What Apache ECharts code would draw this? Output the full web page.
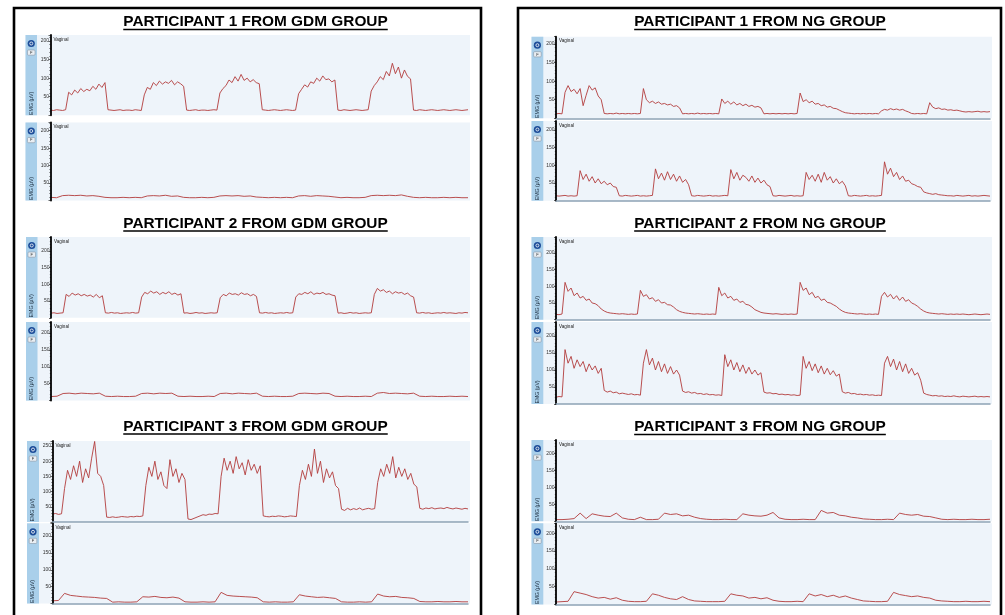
<!DOCTYPE html>
<html><head><meta charset="utf-8">
<script src="https://cdn.jsdelivr.net/npm/echarts@6/dist/echarts.min.js"></script>
<style>html,body{margin:0;padding:0;background:#fff}#c{width:1005px;height:615px}</style>
</head><body><div id="c"></div>
<script>
// ---------- texts ----------
const titlesLeft = ['PARTICIPANT 1 FROM GDM GROUP', 'PARTICIPANT 2 FROM GDM GROUP', 'PARTICIPANT 3 FROM GDM GROUP'];
const titlesRight = ['PARTICIPANT 1 FROM NG GROUP', 'PARTICIPANT 2 FROM NG GROUP', 'PARTICIPANT 3 FROM NG GROUP'];
const channelLabel = 'Vaginal';
const axisName = 'EMG (µV)';
const tickStep = 50;

// ---------- data (µV) ----------
const gdm1Top = [14,13,15,14,13,15,
62,55,68,60,72,64,70,66,78,70,84,75,88,
15,14,13,14,15,13,14,14,13,15,14,13,
55,75,70,88,80,92,84,90,86,94,82,90,85,78,
14,13,14,15,13,14,14,13,14,15,14,
60,72,80,95,88,104,92,110,94,100,90,96,88,85,
15,14,13,14,15,14,13,14,15,14,13,14,
58,70,82,76,90,86,100,92,106,96,98,90,95,
14,13,15,14,13,14,15,14,13,14,15,
65,80,90,104,96,118,106,140,112,130,100,122,105,98,
14,13,15,14,13,14,15,14,13,14,15,14,13,14,15,14,13,14,15];

const gdm1Bottom = [9,8,14,15,14,15,13,14,12,9, 8,8,9,8,9,8,13,14,13,15, 12,13,9,8,8,9,8,9,13,14,
13,14,12,13,10,9,8,9,8,9, 8,13,14,12,14,13,12,10,8,9, 8,8,9,14,15,14,15,14,16,12, 9,8,9,8,8,9,8,9,8,8];

const gdm2Top = [14,15,13,14,15,
70,64,74,68,72,66,70,65,68,62,70,60,66,
15,14,16,14,15,13,14,15,14,16,14,15,
62,76,72,80,74,78,70,76,72,78,70,74,68,72,
14,15,13,14,16,14,15,13,14,15,14,15,
60,70,66,74,70,72,68,75,70,72,66,70,64,
15,14,16,14,15,13,14,15,14,16,14,15,
62,72,70,76,72,78,70,74,72,76,70,72,68,66,
14,15,13,14,16,14,15,13,14,15,14,15,
70,88,80,84,76,80,72,78,74,76,70,74,66,62,
15,14,16,14,15,13,14,15,14,16,14,15,14,13,15,14,16,15];

const gdm2Bottom = [12,13,21,22,20,22,21,20,22,13, 12,13,12,12,13,21,22,20,22,21, 22,13,12,13,12,12,13,12,21,22,
20,22,21,20,22,13,12,13,12,12, 13,21,22,21,20,22,21,13,12,13, 12,12,13,12,22,24,21,22,21,20, 22,13,12,13,12,12,13,12,13,12];

const gdm3Top = [26,28,25,27,
110,170,140,185,150,200,130,175,145,210,265,160,150,120,
16,15,17,15,16,18,17,16,18,17,19,18,20,
120,180,150,200,140,165,120,110,205,150,175,130,160,140,
10,8,12,16,20,24,22,26,25,28,27,
150,210,170,200,160,215,175,195,155,205,170,190,160,185,
20,18,17,19,18,20,19,17,18,20,19,18,
120,170,140,190,150,240,160,200,130,175,145,165,120,110,
42,38,45,40,44,41,46,40,43,45,42,44,
130,175,150,190,160,215,145,180,150,175,140,160,125,115,
45,42,46,44,47,43,45,46,44,48,45,43,46,44,42,45,43];

const gdm3Bottom = [8,9, 30,24,22,20,19,18,16,15, 4,5,4,4,5, 20,19,21,18,17,19,16, 5,4,4,5,4,5,
33,24,22,21,20,19,17, 5,4,5,4,4,5, 26,22,20,18,19,17,15, 5,4,4,5,4,5,
28,22,20,21,18,17,15, 6,5,5,6,5,5,6,5,5];

const ng1Top = [12,13,12,
70,88,72,78,66,80,34,62,88,76,82,60,50,
13,12,13,12,14,12,13,12,13,12,13,12,13,
80,50,42,46,40,44,38,40,36,38,32,34,28,
12,13,12,13,12,14,12,13,12,13,12,13,12,
52,40,46,38,44,36,40,34,38,32,35,30,32,28,
12,13,12,13,12,13,12,13,12,13,12,13,
68,45,50,42,46,38,40,34,36,30,32,27,26,22,
18,15,14,13,12,13,12,13,12,13,12,13,12,
20,24,22,26,23,25,22,24,20,17,
13,12,13,12,13,12,
42,30,26,28,24,25,22,23,21,22,20,
18,17,18,17,18,19,17,18,17,18];

const ng1Bottom = [14,13,14,15,13,14,13,14,
85,60,75,55,68,50,62,48,55,45,50,40,38,
14,13,15,14,13,14,15,13,14,13,14,15,
90,62,78,58,82,60,75,55,70,52,60,45,
14,13,15,14,13,14,15,13,14,13,14,15,14,
88,62,80,58,72,66,55,70,52,64,50,58,45,40,
14,13,15,14,13,14,15,13,14,13,14,
80,60,72,55,75,52,80,58,68,50,62,48,55,42,
14,13,15,14,13,14,15,13,14,13,14,15,
110,75,92,68,80,60,70,55,58,48,45,40,38,
25,22,20,18,20,17,16,15,14,
14,13,15,14,13,14,15,13,14,13,14,15,14,13];

const ng2Top = [16,15,17,
112,85,95,72,80,65,70,58,62,50,48,42,
32,26,22,20,19,18,17,18,17,16,17,16,17,
88,70,75,62,66,55,60,50,52,45,44,38,
30,25,22,20,19,18,17,18,17,16,17,16,17,16,
97,72,80,65,70,58,62,52,55,46,44,38,
30,26,22,20,19,18,17,18,17,16,17,16,17,16,17,
112,88,95,75,82,66,70,58,62,52,50,45,40,
32,26,22,20,19,18,17,18,17,16,17,16,17,16,
70,82,68,76,62,72,58,68,55,60,50,46,40,
32,26,22,20,19,18,17,18,17,16,17,16,17,16,17,16,15,16,17,16,15,16,17,16];

const ng2Bottom = [20,22,21,
160,120,140,105,130,110,125,95,118,100,112,90,105,
40,35,38,33,35,30,32,30,28,30,27,28,26,
120,160,115,135,100,125,95,118,90,110,88,100,85,
38,34,36,32,34,30,31,28,30,27,28,26,27,25,
145,110,130,100,122,95,115,90,108,88,100,85,92,
35,32,33,30,31,28,29,27,28,26,27,25,26,
140,105,125,98,118,92,112,88,105,86,98,82,88,
36,32,34,30,31,28,29,27,28,26,27,25,26,25,
120,140,110,132,100,125,95,118,90,105,85,92,70,
32,28,26,24,25,23,24,22,23,22,24,22,21,23,22,21,22,23,21,22,21,22,21];

const ng3Top = [5,5,6,8,24,8,22,18,15,14, 24,10,6,5,12,5,5,6,24,20, 22,16,18,12,8,6,5,5,6,5,
5,22,18,16,15,18,26,10,6,5, 5,6,5,5,32,24,26,18,16,12, 10,7,6,5,5,6,5,24,20,18, 20,15,14,10,6,5,6,5,5,6, 5,5,6];

const ng3Bottom = [7,8,9,36,32,28,22,18,20,15, 19,12,9,8,8,9,30,26,20,16, 14,22,14,10,9,8,8,8,9,30,
26,24,18,20,16,19,12,9,8,8, 9,8,30,24,28,22,26,20,24,18, 14,10,9,8,8,9,34,28,25,22, 24,20,18,12,10,9,8,8,9,8, 8,9,8];

// ---------- layout (pixels) ----------
// px: panel left, sw: side strip width, ax: y-axis x, end: trace end x, right: panel right
// top: panel top, zero: y of 0 µV, refV/refY: a tick value and its y position
const L1 = {px:25.5, sw:11.5, ax:50.5, end:468, right:470};
const L2 = {px:26, sw:11.5, ax:51, end:468, right:470};
const L3 = {px:27, sw:12, ax:52.5, end:468, right:470};
const R  = {px:531.5, sw:11.8, ax:556, end:990, right:992};
const panels = [
  Object.assign({data:gdm1Top,    top:35,    zero:115.3, refV:200, refY:41,    line:false}, L1),
  Object.assign({data:gdm1Bottom, top:122.5, zero:200.5, refV:200, refY:130.7, line:false}, L1),
  Object.assign({data:gdm2Top,    top:237,   zero:317.8, refV:200, refY:251,   line:false}, L2),
  Object.assign({data:gdm2Bottom, top:322,   zero:400.6, refV:200, refY:333,   line:false}, L2),
  Object.assign({data:gdm3Top,    top:441,   zero:522,   refV:250, refY:446,   line:true}, L3),
  Object.assign({data:gdm3Bottom, top:523.3, zero:603.5, refV:200, refY:536,   line:true}, L3),
  Object.assign({data:ng1Top,     top:36.7,  zero:118.3, refV:200, refY:44,    line:true}, R),
  Object.assign({data:ng1Bottom,  top:121,   zero:200.7, refV:200, refY:130,   line:true}, R),
  Object.assign({data:ng2Top,     top:237,   zero:319.7, refV:200, refY:253,   line:true}, R),
  Object.assign({data:ng2Bottom,  top:322,   zero:404,   refV:200, refY:336,   line:true}, R),
  Object.assign({data:ng3Top,     top:440,   zero:521.3, refV:200, refY:453.3, line:true}, R),
  Object.assign({data:ng3Bottom,  top:523.3, zero:604.5, refV:200, refY:533.3, line:true}, R)
];

const titleFont = 'bold 15.4px "Liberation Sans", Arial, sans-serif';
const mc = document.createElement('canvas').getContext('2d');
mc.font = titleFont;

const grids = [], xAxes = [], yAxes = [], series = [], graphics = [];

// frames
graphics.push({type:'rect', shape:{x:14, y:8, width:467, height:660}, style:{fill:'none', stroke:'#000', lineWidth:2.6}, z:20, silent:true});
graphics.push({type:'rect', shape:{x:518, y:8, width:483, height:660}, style:{fill:'none', stroke:'#000', lineWidth:2.6}, z:20, silent:true});

// titles
function addTitle(text, cx, cy) {
  const w = mc.measureText(text).width;
  graphics.push({type:'text', x:cx, y:cy, style:{text:text, font:titleFont, fill:'#000', align:'center', verticalAlign:'middle'}, z:20, silent:true});
  graphics.push({type:'line', shape:{x1:cx - w/2, y1:cy + 7.6, x2:cx + w/2, y2:cy + 7.6}, style:{stroke:'#000', lineWidth:1.5}, z:20, silent:true});
}
const titleY = [22, 223.5, 426.5];
titlesLeft.forEach((t, k) => addTitle(t, 255.5, titleY[k]));
titlesRight.forEach((t, k) => addTitle(t, 760, titleY[k] + (k === 2 ? 0.5 : 0)));

panels.forEach((p, i) => {
  const maxV = p.refV * (p.zero - p.top) / (p.zero - p.refY);
  grids.push({left:p.ax, top:p.top, width:p.end - p.ax, height:p.zero - p.top, containLabel:false, outerBoundsMode:'none'});
  xAxes.push({gridIndex:i, type:'category', boundaryGap:false, data:p.data.map((_, k) => k),
    axisLine:{show:p.line, onZero:false, lineStyle:{color:'#8da2b5', width:1.5}},
    axisTick:{show:false}, axisLabel:{show:false}, splitLine:{show:false}, z:5});
  yAxes.push({gridIndex:i, type:'value', min:0, max:maxV, interval:tickStep,
    axisLine:{show:true, lineStyle:{color:'#000', width:1.8}},
    axisTick:{show:true, length:2, lineStyle:{color:'#000', width:0.6}},
    minorTick:{show:true, splitNumber:5, length:1.2, lineStyle:{color:'#000', width:0.5}},
    axisLabel:{fontSize:5, margin:1.5, color:'#333', fontFamily:'Liberation Sans',
      formatter: v => (v > 0 && v % tickStep === 0) ? String(v) : ''},
    splitLine:{show:false}, z:5});
  series.push({type:'line', xAxisIndex:i, yAxisIndex:i, data:p.data, showSymbol:false, symbol:'none',
    lineStyle:{color:'#b23b3b', width:0.9}, silent:true, z:4, animation:false});

  const h = p.zero - p.top;
  const cx = p.px + p.sw / 2;
  graphics.push({type:'rect', shape:{x:p.px, y:p.top, width:p.right - p.px, height:h}, style:{fill:'#eef4fa'}, z:0, silent:true});
  graphics.push({type:'rect', shape:{x:p.px, y:p.top, width:p.sw, height:h}, style:{fill:'#a9cfea'}, z:1, silent:true});
  graphics.push({type:'circle', shape:{cx:cx, cy:p.top + 8.5, r:3.6}, style:{fill:'#1d4d99'}, z:10, silent:true});
  graphics.push({type:'circle', shape:{cx:cx, cy:p.top + 8.5, r:1.5}, style:{fill:'none', stroke:'#ffffff', lineWidth:0.8}, z:11, silent:true});
  graphics.push({type:'rect', shape:{x:cx - 3.8, y:p.top + 15, width:7.6, height:5.2, r:1}, style:{fill:'#e9eef3', stroke:'#8796a5', lineWidth:0.6}, z:10, silent:true});
  graphics.push({type:'text', x:cx, y:p.top + 17.7, style:{text:'F', font:'4px "Liberation Sans", Arial', fill:'#333', align:'center', verticalAlign:'middle'}, z:11, silent:true});
  graphics.push({type:'text', x:cx, y:p.zero - 12, rotation:Math.PI / 2, style:{text:axisName, font:'5.2px "Liberation Sans", Arial', fill:'#1a2a3a', align:'center', verticalAlign:'middle'}, z:11, silent:true});
  graphics.push({type:'text', x:p.ax + 3, y:p.top + 4.5, style:{text:channelLabel, font:'4.6px "Liberation Sans", Arial', fill:'#222', align:'left', verticalAlign:'middle'}, z:11, silent:true});
});

const chart = echarts.init(document.getElementById('c'), null, {renderer:'canvas'});
chart.setOption({
  backgroundColor:'#ffffff',
  animation:false,
  grid:grids, xAxis:xAxes, yAxis:yAxes, series:series,
  graphic:{elements:graphics}
});
</script>
</body></html>
